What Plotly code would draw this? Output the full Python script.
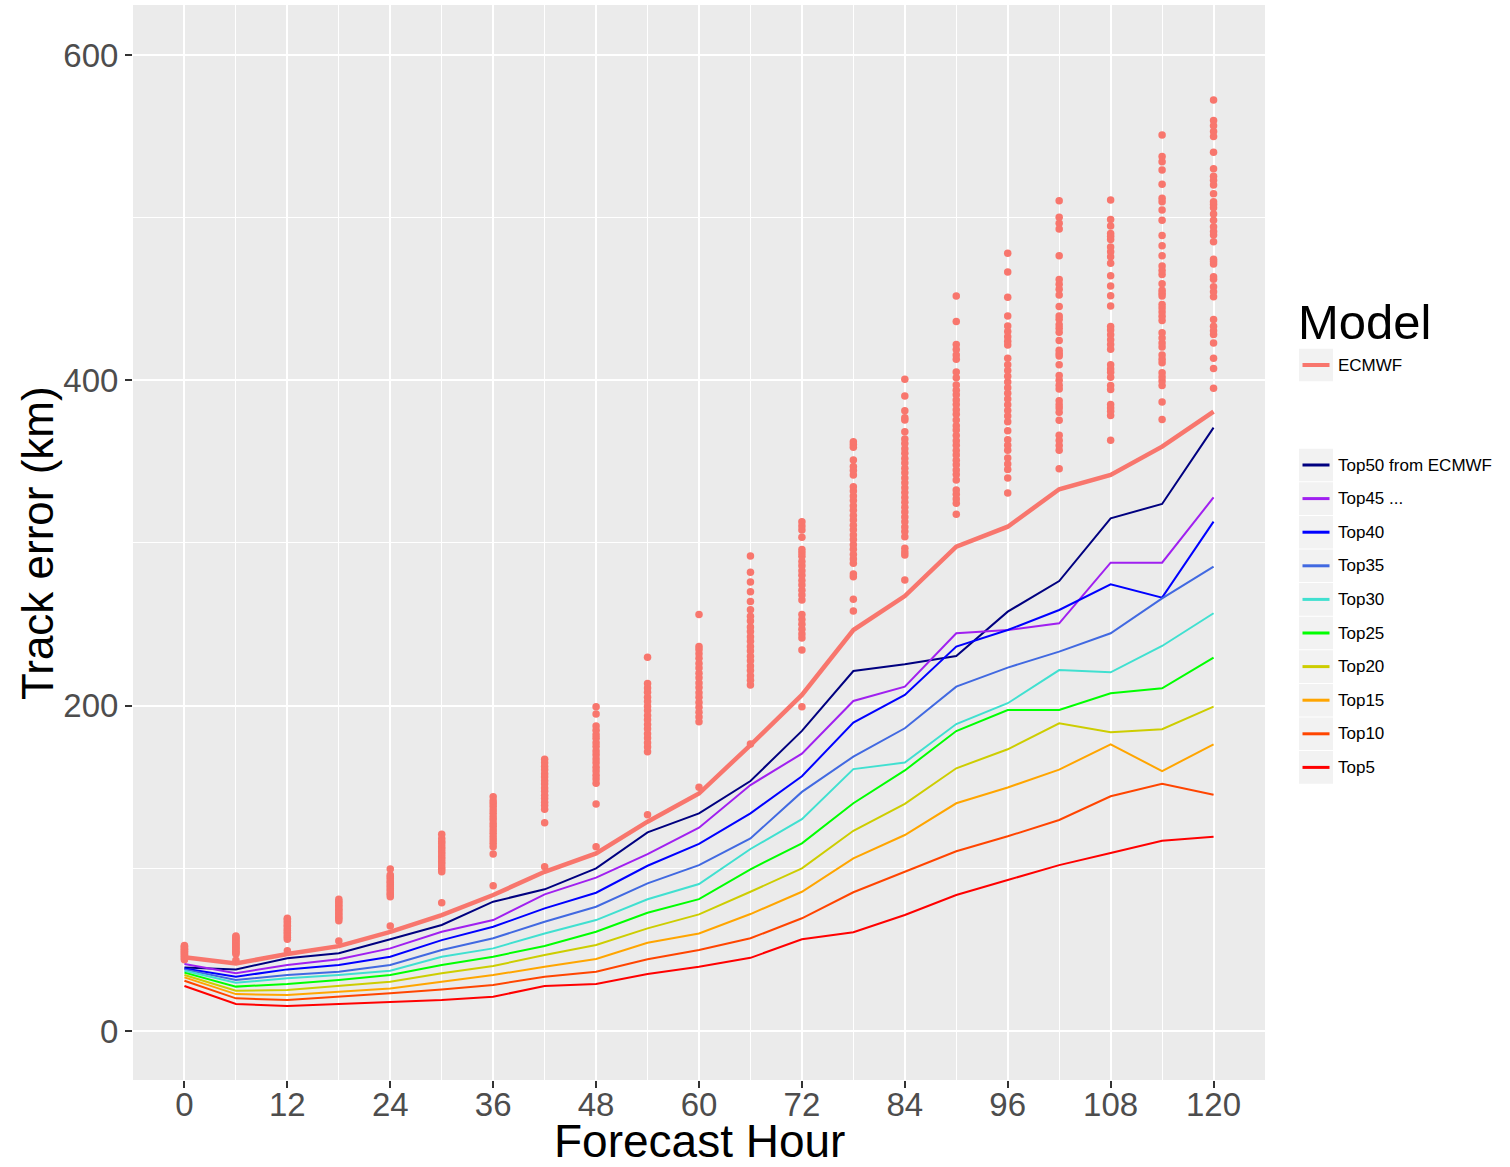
import plotly.graph_objects as go

hours = [0, 6, 12, 18, 24, 30, 36, 42, 48, 54, 60, 66, 72, 78, 84, 90, 96, 102, 108, 114, 120]
x_ticks = [0, 12, 24, 36, 48, 60, 72, 84, 96, 108, 120]
y_ticks = [0, 200, 400, 600]

ecmwf = [45.3, 41.6, 47.3, 52.2, 61, 71.3, 83.6, 97.9, 109.2, 128.7, 146, 175.8, 206.6, 246.5, 267.4, 297.7, 310, 333, 341.8, 359.2, 380.7]

top50 = [39.1, 37.9, 44.7, 47.8, 56.4, 65.2, 79.5, 87.1, 100, 122.1, 133.8, 153.7, 184.5, 221.3, 225.4, 230.5, 257.8, 276.6, 315.2, 324, 370.9]
top45 = [41.2, 35.5, 40.6, 44.1, 50.8, 61, 68.2, 84, 94.3, 108.8, 125, 151.2, 170.5, 202.9, 211.7, 244.5, 246.5, 250.6, 287.9, 287.9, 328]
top40 = [38.5, 33.4, 37.9, 40.6, 45.7, 55.9, 64.1, 75.4, 85, 101.6, 115, 133.8, 156.6, 189.6, 206.6, 236.3, 246.5, 258.8, 274.6, 266.4, 313.1]
top35 = [37.9, 31.4, 34.4, 36.5, 40.6, 49.8, 57, 67.2, 76.4, 90.8, 102, 118.4, 147, 168.7, 186.1, 211.7, 223.4, 233.2, 244.5, 266, 285.5]
top30 = [37.1, 29.7, 32.4, 34.4, 37.1, 45.7, 50.8, 60, 68.2, 81, 90.4, 111.9, 130.2, 161, 165, 188.7, 201.5, 221.9, 220.5, 236.7, 256.8]
top25 = [35.9, 27.3, 28.9, 31.4, 34.4, 40.6, 45.7, 52.3, 61, 72.7, 81.1, 99.4, 115.4, 140, 160.2, 184.4, 197.3, 197.3, 207.6, 210.7, 229.5]
top20 = [34.4, 24.8, 25.2, 27.7, 30.3, 35.5, 40, 46.7, 52.9, 63.1, 71.7, 85.6, 100, 123.1, 139.7, 161.5, 173.2, 189.2, 183.6, 185.5, 199.4]
top15 = [33, 22.7, 22.1, 24.2, 26.2, 30.3, 34.4, 39.5, 44.3, 54.3, 60, 71.9, 85.6, 106.1, 120.5, 140, 149.7, 160.7, 176.2, 159.8, 176.2]
top10 = [30.9, 20.1, 19.1, 21.1, 23.2, 25.6, 28.3, 33.4, 36.5, 44.1, 49.8, 57, 69.3, 85.3, 98, 110.5, 119.7, 129.7, 144.3, 152, 145.3]
top5 = [27.7, 16.6, 15.4, 16.6, 18, 19.1, 21.1, 27.7, 28.9, 35, 39.5, 45, 56.4, 60.7, 71.3, 83.6, 92.8, 102, 109.4, 117, 119.5]

top_names = ["Top50 from ECMWF", "Top45 ...", "Top40", "Top35", "Top30", "Top25", "Top20", "Top15", "Top10", "Top5"]
top_colors = ["#000080", "#A020F0", "#0000FF", "#4169E1", "#40E0D0", "#00FF00", "#CDCD00", "#FFA500", "#FF4500", "#FF0000"]
ecmwf_color = "#F8766D"

# ensemble member errors at each forecast hour
m000 = [43.8, 44.3, 45.1, 45.7, 46.1, 46.9, 47.4, 48.0, 48.6, 49.0, 49.8, 50.3, 50.8, 51.6, 52.0, 52.6]
m006 = [43.5, 47.3, 48.1, 49.1, 49.8, 50.9, 51.5, 52.6, 53.3, 54.3, 55.0, 56.1, 56.7, 57.8, 58.4]
m012 = [49.4, 56.4, 57.6, 58.5, 59.8, 60.7, 62.0, 62.9, 64.2, 65.1, 66.4, 67.3, 68.5, 69.3]
m018 = [55.3, 67.8, 69.1, 70.1, 71.5, 72.5, 73.9, 74.9, 76.3, 77.3, 78.7, 79.7, 81.0]
m024 = [64.5, 82.6, 83.9, 84.9, 86.4, 87.4, 88.8, 89.9, 91.3, 92.3, 93.7, 94.8, 95.9, 99.6]
m030 = [78.9, 97.9, 99.5, 100.9, 102.6, 104.0, 105.7, 107.1, 108.8, 110.2, 111.9, 113.3, 115.1, 116.5, 118.4, 120.9]
m036 = [89.3, 108.8, 113.3, 115.4, 117.5, 119.4, 121.6, 123.5, 125.7, 127.6, 129.8, 131.7, 133.9, 135.8, 138.0, 139.8, 141.6, 144.0]
m042 = [101.0, 128.0, 136.3, 138.6, 140.6, 143.0, 145.0, 147.4, 149.4, 151.8, 153.8, 156.2, 158.2, 160.6, 162.6, 164.9, 167.0]
m048 = [113.3, 139.5, 152.3, 154.9, 157.2, 159.9, 162.2, 164.9, 167.2, 169.9, 172.2, 174.9, 177.2, 179.9, 182.2, 184.9, 187.5, 194.9, 199.4]
m054 = [133.0, 171.7, 174.6, 177.2, 180.2, 182.8, 185.8, 188.4, 191.4, 194.0, 197.0, 199.6, 202.6, 205.2, 208.2, 210.8, 213.7, 229.7]
m060 = [149.8, 190.1, 193.1, 195.9, 199.1, 201.9, 205.1, 207.9, 211.1, 213.9, 217.1, 219.9, 223.1, 225.9, 229.1, 231.9, 234.5, 236.3, 256.0]
m066 = [176.4, 212.7, 215.6, 218.4, 221.6, 224.4, 227.6, 230.4, 233.6, 236.4, 239.6, 242.4, 245.6, 248.4, 252.1, 254.9, 259.0, 264.0, 270.0, 276.0, 282.0, 292.0]
m072 = [199.4, 234.2, 241.6, 244.1, 246.9, 250.1, 252.9, 256.0, 265.0, 268.1, 270.9, 274.1, 276.9, 280.1, 282.9, 286.0, 288.6, 291.9, 294.0, 296.0, 303.5, 308.0, 310.5, 313.1]
m078 = [258.2, 265.4, 279.3, 281.0, 287.5, 290.1, 292.9, 296.1, 298.9, 302.1, 304.9, 308.1, 310.9, 314.1, 316.9, 320.1, 322.9, 326.1, 328.9, 332.0, 334.6, 341.8, 344.5, 347.0, 351.0, 358.8, 360.5, 362.3]
m084 = [277.2, 292.6, 294.5, 296.7, 303.9, 307.1, 309.9, 313.1, 315.9, 319.1, 321.9, 325.1, 327.9, 331.1, 333.9, 337.1, 339.9, 343.1, 345.9, 349.1, 351.9, 355.1, 357.9, 361.1, 363.9, 368.4, 375.6, 377.0, 381.3, 390.4, 400.6]
m090 = [317.6, 324.4, 327.1, 329.9, 332.5, 338.7, 342.1, 344.9, 348.1, 350.9, 354.1, 356.9, 360.1, 362.9, 366.1, 369.5, 372.0, 375.6, 379.1, 381.9, 385.1, 387.9, 391.1, 393.9, 397.1, 401.6, 405.1, 412.9, 415.5, 419.0, 422.0, 436.2, 451.8]
m096 = [330.8, 340.0, 345.1, 348.5, 352.3, 357.0, 360.1, 363.5, 369.0, 374.6, 378.1, 381.5, 384.9, 388.5, 392.1, 395.5, 398.9, 402.5, 406.1, 409.5, 413.5, 421.7, 424.0, 426.8, 430.0, 433.4, 439.6, 451.0, 466.6, 478.1]
m102 = [345.6, 357.0, 360.0, 363.0, 366.2, 375.4, 380.4, 383.0, 385.0, 387.5, 394.7, 397.0, 400.0, 402.9, 409.5, 414.9, 416.5, 418.4, 424.5, 429.6, 432.0, 434.1, 437.5, 439.6, 445.3, 452.5, 456.0, 459.0, 462.0, 476.5, 493.0, 496.5, 500.2, 510.4]
m108 = [363.2, 378.3, 381.0, 383.0, 385.1, 394.3, 396.8, 401.9, 405.0, 407.0, 409.5, 419.1, 422.0, 425.0, 428.0, 431.0, 433.0, 445.7, 451.9, 458.0, 464.2, 472.0, 476.0, 479.0, 482.0, 486.5, 488.5, 490.3, 494.8, 498.9, 510.8]
m114 = [375.9, 386.6, 396.8, 399.5, 402.0, 404.6, 410.8, 413.0, 415.5, 420.4, 423.0, 426.0, 429.2, 436.8, 439.4, 442.0, 444.5, 446.6, 451.8, 453.5, 455.3, 459.3, 465.1, 467.5, 470.2, 476.5, 482.7, 489.0, 498.4, 504.7, 509.8, 511.9, 520.5, 529.3, 534.4, 537.5, 550.8]
m120 = [395.1, 407.3, 413.5, 423.0, 428.2, 430.5, 433.3, 437.4, 451.4, 454.5, 457.5, 462.1, 463.7, 471.5, 473.0, 474.4, 485.2, 489.3, 491.5, 494.4, 498.4, 502.2, 506.1, 508.0, 509.8, 514.6, 520.1, 523.0, 525.4, 530.0, 540.2, 549.9, 553.0, 556.5, 559.7, 572.3]

members = [m000, m006, m012, m018, m024, m030, m036, m042, m048, m054, m060, m066,
           m072, m078, m084, m090, m096, m102, m108, m114, m120]

# ---- layout geometry (pixels) ----
W, H = 1510, 1167
L, R, T, B = 133, 1265, 5, 1080
def px(xp):
    return (xp - L) / (R - L)
def py(yp):
    return (B - yp) / (B - T)

fig = go.Figure()

# scatter of members
sx, sy = [], []
for h, vals in zip(hours, members):
    sx += [h] * len(vals)
    sy += vals
fig.add_trace(go.Scatter(x=sx, y=sy, mode="markers",
                         marker=dict(color=ecmwf_color, size=7.5, line=dict(width=0)),
                         showlegend=False, hoverinfo="skip"))

tops = [top50, top45, top40, top35, top30, top25, top20, top15, top10, top5]
for name, col, vals in zip(top_names, top_colors, tops):
    fig.add_trace(go.Scatter(x=hours, y=vals, mode="lines", name=name,
                             line=dict(color=col, width=2), showlegend=False))

fig.add_trace(go.Scatter(x=hours, y=ecmwf, mode="lines", name="ECMWF",
                         line=dict(color=ecmwf_color, width=4.5), showlegend=False))

# ---- manual legend (ggplot style) and axis titles ----
font_fam = "Liberation Sans, Arial, sans-serif"
shapes = []
annotations = []
annotations.append(dict(text="Model", x=px(1296), y=py(322), xref="paper", yref="paper",
                        xanchor="left", yanchor="middle", showarrow=False,
                        font=dict(size=49, color="black", family=font_fam)))
annotations.append(dict(text="Forecast Hour", x=px(699), y=py(1141), xref="paper", yref="paper",
                        xanchor="center", yanchor="middle", showarrow=False,
                        font=dict(size=46, color="black", family=font_fam)))
annotations.append(dict(text="Track error (km)", x=px(37), y=py(543), xref="paper", yref="paper",
                        xanchor="center", yanchor="middle", showarrow=False, textangle=-90,
                        font=dict(size=44, color="black", family=font_fam)))

legend_items = [("ECMWF", ecmwf_color, 365, 4)]
for i, (name, col) in enumerate(zip(top_names, top_colors)):
    legend_items.append((name, col, 465 + i * 33.6, 3))

for name, col, cy, lw in legend_items:
    shapes.append(dict(type="rect", xref="paper", yref="paper",
                       x0=px(1299), x1=px(1333), y0=py(cy - 16.3), y1=py(cy + 16.3),
                       fillcolor="#F2F2F2", line=dict(width=0), layer="below"))
    shapes.append(dict(type="line", xref="paper", yref="paper",
                       x0=px(1302.5), x1=px(1329.5), y0=py(cy), y1=py(cy),
                       line=dict(color=col, width=lw)))
    annotations.append(dict(text=name, x=px(1336), y=py(cy), xref="paper", yref="paper",
                            xanchor="left", yanchor="middle", showarrow=False,
                            font=dict(size=17, color="black", family=font_fam)))

fig.update_layout(
    width=W, height=H,
    margin=dict(l=L, r=W - R, t=T, b=H - B, autoexpand=False),
    paper_bgcolor="white", plot_bgcolor="#EBEBEB",
    shapes=shapes, annotations=annotations,
    showlegend=False,
    font=dict(family=font_fam),
)
fig.update_xaxes(
    automargin=False,
    range=[-6, 126], tickvals=x_ticks, ticktext=[str(v) for v in x_ticks],
    showgrid=True, gridcolor="white", gridwidth=2.2,
    minor=dict(tickvals=[6, 18, 30, 42, 54, 66, 78, 90, 102, 114], showgrid=True,
               gridcolor="white", gridwidth=1.1, ticklen=0),
    zeroline=False, showline=False,
    ticks="outside", ticklen=7, tickwidth=1.5, tickcolor="#333333",
    ticklabelstandoff=-12,
    tickfont=dict(size=33, color="#4D4D4D", family=font_fam),
)
fig.update_yaxes(
    automargin=False,
    range=[-30.1, 630.7], tickvals=y_ticks, ticktext=[str(v) for v in y_ticks],
    showgrid=True, gridcolor="white", gridwidth=2.2,
    minor=dict(tickvals=[100, 300, 500], showgrid=True, gridcolor="white", gridwidth=1.1, ticklen=0),
    zeroline=False, showline=False,
    ticks="outside", ticklen=7, tickwidth=1.5, tickcolor="#333333",
    tickfont=dict(size=33, color="#4D4D4D", family=font_fam),
)

fig.write_html("out.html", config={"displayModeBar": False},
               post_script="document.body.style.margin='0px';document.body.style.padding='0px';document.documentElement.style.overflow='hidden';")
